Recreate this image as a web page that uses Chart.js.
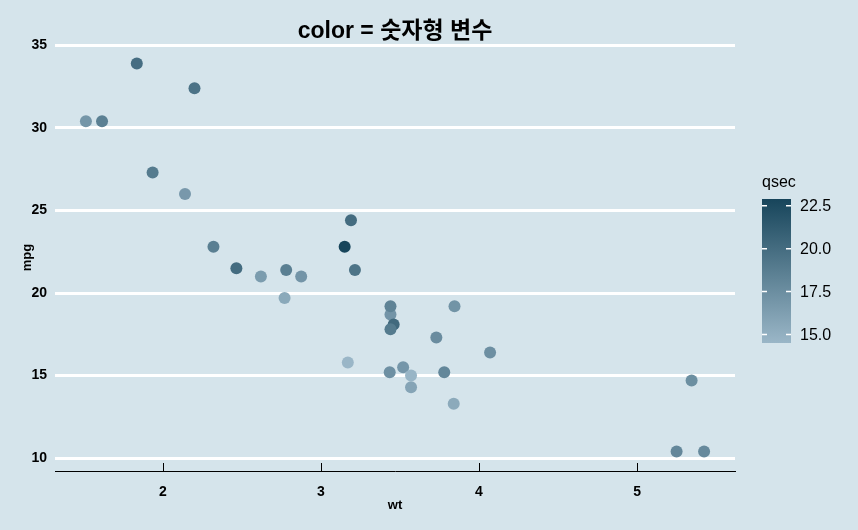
<!DOCTYPE html>
<html>
<head>
<meta charset="utf-8">
<style>
  body { margin: 0; background: #d5e4eb; }
  #wrap { width: 858px; height: 530px; }
</style>
<script src="https://cdn.jsdelivr.net/npm/chart.js@4.4.1/dist/chart.umd.min.js"></script>
</head>
<body>
<div id="wrap"><canvas id="chart" width="858" height="530"></canvas></div>
<script>
// mtcars: weight, mpg, qsec
const wt = [2.620, 2.875, 2.320, 3.215, 3.440, 3.460, 3.570, 3.190, 3.150, 3.440, 3.440,
  4.070, 3.730, 3.780, 5.250, 5.424, 5.345, 2.200, 1.615, 1.835, 2.465, 3.520, 3.435,
  3.840, 3.845, 1.935, 2.140, 1.513, 3.170, 2.770, 3.570, 2.780];
const mpg = [21.0, 21.0, 22.8, 21.4, 18.7, 18.1, 14.3, 24.4, 22.8, 19.2, 17.8,
  16.4, 17.3, 15.2, 10.4, 10.4, 14.7, 32.4, 30.4, 33.9, 21.5, 15.5, 15.2,
  13.3, 19.2, 27.3, 26.0, 30.4, 15.8, 19.7, 15.0, 21.4];
const qsec = [16.46, 17.02, 18.61, 19.44, 17.02, 20.22, 15.84, 20.00, 22.90, 18.30, 18.90,
  17.40, 17.60, 18.00, 17.98, 17.82, 17.42, 19.47, 18.52, 19.90, 20.01, 16.87, 17.30,
  15.41, 17.05, 18.90, 16.70, 16.90, 14.50, 15.50, 14.60, 18.60];

const xTicks = [2, 3, 4, 5];
const yTicks = [10, 15, 20, 25, 30, 35];
const qTicks = [15.0, 17.5, 20.0, 22.5];

const LOW = [154, 182, 199], HIGH = [23, 69, 91];
const qMin = Math.min(...qsec), qMax = Math.max(...qsec);

function qColor(v) {
  const t = (v - qMin) / (qMax - qMin);
  const c = LOW.map((l, i) => Math.round(l + (HIGH[i] - l) * t));
  return `rgb(${c[0]},${c[1]},${c[2]})`;
}

// ggplot-like 5% expansion
function expand(arr) {
  const lo = Math.min(...arr), hi = Math.max(...arr), d = (hi - lo) * 0.05;
  return [lo - d, hi + d];
}
const xr = expand(wt), yr = expand(mpg);

const FONT = "'Liberation Sans', Arial, 'Noto Sans CJK KR', sans-serif";

// inward ticks on the x axis + colour bar legend
const extras = {
  id: 'extras',
  afterDraw(chart) {
    const ctx = chart.ctx;
    const xs = chart.scales.x, area = chart.chartArea;
    ctx.save();
    ctx.strokeStyle = '#000';
    ctx.lineWidth = 1;
    xTicks.forEach(v => {
      const px = Math.round(xs.getPixelForValue(v)) + 0.5;
      ctx.beginPath();
      ctx.moveTo(px, area.bottom);
      ctx.lineTo(px, area.bottom - 8);
      ctx.stroke();
    });

    // colour bar
    const bx = 762, bw = 29, yTop = 199, yBot = 343;
    const toY = v => yBot - (v - qMin) / (qMax - qMin) * (yBot - yTop);
    const g = ctx.createLinearGradient(0, yBot, 0, yTop);
    g.addColorStop(0, qColor(qMin));
    g.addColorStop(0.5, qColor((qMin + qMax) / 2));
    g.addColorStop(1, qColor(qMax));
    ctx.fillStyle = g;
    ctx.fillRect(bx, yTop, bw, yBot - yTop);

    ctx.fillStyle = '#000';
    ctx.font = '16px ' + FONT;
    ctx.textAlign = 'left';
    ctx.textBaseline = 'middle';
    ctx.fillText('qsec', bx, 183);

    ctx.strokeStyle = '#fff';
    ctx.lineWidth = 1.5;
    qTicks.forEach(v => {
      const y = toY(v);
      ctx.beginPath();
      ctx.moveTo(bx, y); ctx.lineTo(bx + 5, y);
      ctx.moveTo(bx + bw - 5, y); ctx.lineTo(bx + bw, y);
      ctx.stroke();
      ctx.fillStyle = '#000';
      ctx.fillText(v.toFixed(1), 800, y + 1);
    });
    ctx.restore();
  }
};

new Chart(document.getElementById('chart'), {
  type: 'scatter',
  data: {
    datasets: [{
      data: wt.map((w, i) => ({ x: w, y: mpg[i] })),
      backgroundColor: c => qColor(qsec[c.dataIndex]),
      borderWidth: 0,
      pointRadius: 6,
      pointHoverRadius: 6
    }]
  },
  options: {
    responsive: false,
    animation: false,
    layout: { padding: { top: 0, right: 123, bottom: 0, left: 0 } },
    plugins: {
      legend: { display: false },
      tooltip: { enabled: false },
      title: {
        display: true,
        fullSize: false,
        text: 'color = 숫자형 변수',
        color: '#000',
        font: { family: FONT, size: 23, weight: 'bold', lineHeight: 1 },
        padding: { top: 20.5, bottom: 0.5 }
      }
    },
    scales: {
      x: {
        type: 'linear',
        min: xr[0], max: xr[1],
        afterBuildTicks: s => { s.ticks = xTicks.map(v => ({ value: v })); },
        afterFit: s => { s.height = 59; },
        grid: { display: false, drawTicks: false },
        border: { display: true, color: '#000', width: 1 },
        ticks: {
          padding: 13,
          color: '#000',
          font: { family: FONT, size: 14, weight: 'bold' }
        },
        title: {
          display: true, text: 'wt', color: '#000',
          font: { family: FONT, size: 13, weight: 'bold' },
          padding: { top: 0, bottom: 17 }
        }
      },
      y: {
        type: 'linear',
        min: yr[0], max: yr[1],
        afterBuildTicks: s => { s.ticks = yTicks.map(v => ({ value: v })); },
        afterFit: s => { s.width = 55; },
        grid: { color: '#fff', lineWidth: 3, drawTicks: false },
        border: { display: false },
        ticks: {
          padding: 8,
          color: '#000',
          font: { family: FONT, size: 14, weight: 'bold' }
        },
        title: {
          display: true, text: 'mpg', color: '#000',
          font: { family: FONT, size: 13, weight: 'bold' },
          padding: { top: 20, bottom: 0 }
        }
      }
    }
  },
  plugins: [extras]
});
</script>
</body>
</html>
